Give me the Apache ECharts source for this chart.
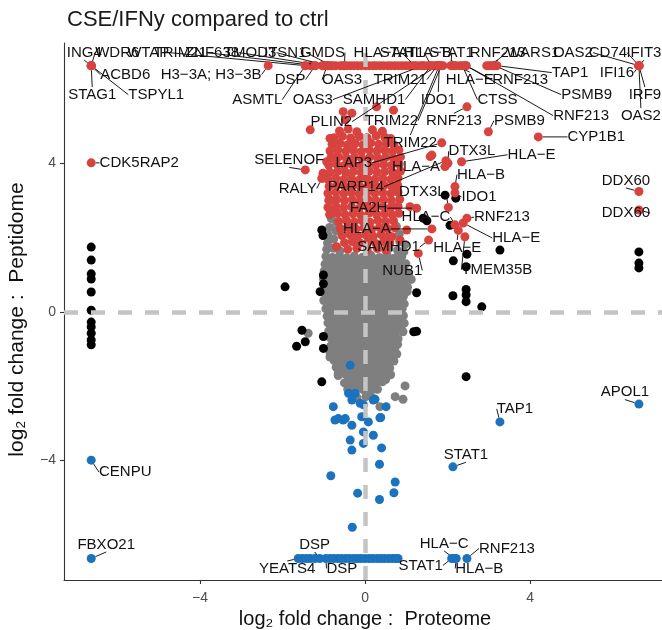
<!DOCTYPE html>
<html>
<head>
<meta charset="utf-8">
<script src="https://cdn.jsdelivr.net/npm/echarts@6/dist/echarts.min.js"></script>
<style>
  html, body { margin: 0; padding: 0; background: #ffffff; }
  #chart { width: 662px; height: 630px; }
</style>
</head>
<body>
<div id="chart"></div>
<script>
// ---- text ----
const chartTitle = 'CSE/IFNy compared to ctrl';
const xAxisTitle = 'log\u2082 fold change :  Proteome';
const yAxisTitle = 'log\u2082 fold change :  Peptidome';
const xTicks = [-4, 0, 4];
const yTicks = [-4, 0, 4];

// ---- not significant (grey) ----
const greyPoints = [
  [-0.82,2.52],[-0.69,2.41],[-0.86,2.28],[-0.71,2.19],[0.76,2.31],[-0.9,2.08],[-0.76,1.97],[0.83,2.1],[-0.91,1.86],[0.84,1.9],[0.97,1.82],
  [-0.93,1.69],[-0.77,1.72],[-0.61,1.65],[0.58,1.71],[0.79,1.66],[0.94,1.62],
  [-0.95,1.5],[-0.79,1.47],[-0.62,1.52],[-0.44,1.46],[-0.26,1.51],[-0.06,1.48],[0.14,1.53],[0.35,1.47],[0.54,1.52],[0.71,1.45],[0.89,1.5],
  [-0.88,1.41],[-0.7,1.38],[-0.53,1.42],[-0.35,1.39],[-0.16,1.41],[0.04,1.38],[0.25,1.42],[0.44,1.39],[0.62,1.4],[0.8,1.37],
  [-0.97,1.29],[-0.81,1.32],[-0.63,1.27],[-0.45,1.31],[-0.28,1.28],[-0.1,1.33],[0.09,1.29],[0.29,1.31],[0.47,1.27],[0.66,1.32],[0.83,1.28],[0.99,1.3],
  [-0.9,1.2],[-0.72,1.18],[-0.54,1.22],[-0.37,1.19],[-0.18,1.21],[0.0,1.18],[0.2,1.22],[0.4,1.2],[0.58,1.17],[0.76,1.21],[0.93,1.19],
  [-0.99,1.11],[-0.83,1.08],[-0.65,1.12],[-0.46,1.09],[-0.27,1.13],[-0.08,1.07],[0.12,1.11],[0.31,1.09],[0.5,1.12],[0.68,1.08],[0.87,1.1],[1.04,1.06],
  [-0.92,1.0],[-0.74,0.98],[-0.56,1.02],[-0.38,0.99],[-0.19,1.01],[-0.01,0.97],[0.18,1.01],[0.37,0.98],[0.55,1.02],[0.74,0.99],[0.92,1.01],[1.06,0.97],
  [-1.01,0.9],[-0.84,0.92],[-0.66,0.88],[-0.48,0.91],[-0.29,0.87],[-0.1,0.92],[0.08,0.89],[0.27,0.91],[0.46,0.88],[0.64,0.92],[0.82,0.89],[0.98,0.93],[1.12,0.88],
  [-0.9,0.8],[-0.71,0.78],[-0.53,0.82],[-0.35,0.79],[-0.16,0.81],[0.03,0.78],[0.21,0.82],[0.4,0.8],[0.59,0.77],[0.77,0.81],[0.94,0.79],
  [-0.98,0.69],[-0.8,0.72],[-0.62,0.68],[-0.44,0.71],[-0.25,0.67],[-0.07,0.72],[0.12,0.7],[0.3,0.68],[0.5,0.73],[0.68,0.69],[0.86,0.71],[1.03,0.67],
  [-0.89,0.6],[-0.71,0.58],[-0.52,0.62],[-0.34,0.59],[-0.15,0.61],[0.04,0.57],[0.22,0.61],[0.41,0.58],[0.6,0.62],[0.79,0.59],[0.96,0.61],
  [-0.97,0.5],[-0.8,0.47],[-0.61,0.52],[-0.43,0.49],[-0.24,0.53],[-0.05,0.48],[0.14,0.51],[0.32,0.47],[0.51,0.52],[0.7,0.49],[0.88,0.53],[1.02,0.55],
  [-0.9,0.4],[-0.72,0.38],[-0.54,0.42],[-0.36,0.39],[-0.17,0.41],[0.02,0.38],[0.2,0.42],[0.4,0.39],[0.58,0.41],[0.77,0.38],[0.93,0.42],
  [-1.0,0.31],[-0.83,0.28],[-0.64,0.32],[-0.45,0.29],[-0.27,0.33],[-0.08,0.28],[0.1,0.31],[0.29,0.27],[0.48,0.32],[0.66,0.29],[0.84,0.31],
  [-0.88,0.2],[-0.7,0.18],[-0.51,0.22],[-0.33,0.19],[-0.14,0.21],[0.05,0.18],[0.24,0.22],[0.43,0.19],[0.62,0.21],[0.8,0.18],[0.95,0.22],
  [-0.95,0.09],[-0.77,0.12],[-0.58,0.08],[-0.4,0.11],[-0.21,0.07],[-0.02,0.12],[0.16,0.09],[0.35,0.11],[0.54,0.07],[0.72,0.12],[0.9,0.09],
  [-0.84,0.0],[-0.65,-0.02],[-0.47,0.02],[-0.28,-0.01],[-0.1,0.01],[0.09,-0.02],[0.28,0.02],[0.47,-0.01],[0.65,0.01],[0.83,-0.02],
  [-0.92,-0.11],[-0.74,-0.08],[-0.55,-0.12],[-0.37,-0.09],[-0.18,-0.13],[0.01,-0.08],[0.19,-0.11],[0.38,-0.09],[0.57,-0.12],[0.76,-0.08],[0.93,-0.1],
  [-0.82,-0.2],[-0.63,-0.22],[-0.45,-0.18],[-0.26,-0.21],[-0.08,-0.19],[0.11,-0.22],[0.3,-0.18],[0.49,-0.21],[0.68,-0.19],[0.86,-0.22],
  [-0.9,-0.29],[-0.72,-0.32],[-0.53,-0.28],[-0.35,-0.31],[-0.16,-0.27],[0.03,-0.32],[0.22,-0.29],[0.4,-0.31],[0.59,-0.28],[0.78,-0.32],[0.95,-0.3],
  [-0.8,-0.4],[-0.61,-0.42],[-0.43,-0.38],[-0.24,-0.41],[-0.05,-0.39],[0.14,-0.42],[0.32,-0.38],[0.5,-0.41],[0.69,-0.39],[0.87,-0.42],
  [-0.88,-0.51],[-0.7,-0.48],[-0.52,-0.52],[-0.33,-0.49],[-0.14,-0.53],[0.05,-0.48],[0.24,-0.51],[0.42,-0.49],[0.6,-0.52],[0.8,-0.47],[0.92,-0.53],
  [-0.77,-0.6],[-0.58,-0.62],[-0.4,-0.58],[-0.2,-0.61],[-0.02,-0.59],[0.17,-0.62],[0.36,-0.58],[0.54,-0.61],[0.72,-0.59],
  [-0.85,-0.69],[-0.67,-0.72],[-0.48,-0.68],[-0.3,-0.71],[-0.11,-0.67],[0.08,-0.72],[0.27,-0.69],[0.45,-0.71],[0.63,-0.68],[0.8,-0.72],
  [-0.75,-0.8],[-0.56,-0.82],[-0.38,-0.78],[-0.19,-0.81],[0.0,-0.79],[0.2,-0.82],[0.39,-0.78],[0.57,-0.81],[0.72,-0.79],
  [-0.83,-0.91],[-0.64,-0.88],[-0.46,-0.92],[-0.27,-0.89],[-0.08,-0.93],[0.11,-0.88],[0.3,-0.91],[0.48,-0.89],[0.66,-0.92],[0.79,-0.87],
  [-0.74,-1.0],[-0.55,-1.02],[-0.36,-0.98],[-0.18,-1.01],[0.01,-0.99],[0.2,-1.02],[0.38,-0.98],[0.56,-1.01],[0.72,-0.99],
  [-0.85,-1.09],[-0.66,-1.12],[-0.47,-1.08],[-0.28,-1.11],[-0.09,-1.07],[0.1,-1.12],[0.29,-1.09],[0.47,-1.11],[0.65,-1.08],[0.77,-1.13],
  [-0.66,-1.2],[-0.47,-1.22],[-0.28,-1.18],[-0.09,-1.21],[0.1,-1.19],[0.29,-1.22],[0.47,-1.18],[0.62,-1.21],
  [-0.75,-1.31],[-0.56,-1.28],[-0.38,-1.32],[-0.19,-1.29],[0.0,-1.33],[0.19,-1.28],[0.38,-1.31],[0.56,-1.29],[0.7,-1.32],
  [-0.6,-1.4],[-0.42,-1.42],[-0.23,-1.38],[-0.04,-1.41],[0.15,-1.39],[0.34,-1.42],[0.52,-1.38],
  [-0.7,-1.49],[-0.52,-1.52],[-0.33,-1.48],[-0.14,-1.51],[0.05,-1.47],[0.24,-1.52],[0.43,-1.49],[0.6,-1.51],
  [-0.56,-1.6],[-0.37,-1.62],[-0.18,-1.58],[0.0,-1.61],[0.2,-1.59],[0.38,-1.62],[0.55,-1.58],
  [-0.65,-1.71],[-0.47,-1.68],[-0.28,-1.72],[-0.09,-1.69],[0.1,-1.73],[0.29,-1.68],[0.47,-1.71],[0.62,-1.69],
  [-0.4,-1.8],[-0.2,-1.82],[-0.01,-1.78],[0.18,-1.81],[0.35,-1.79],[0.5,-1.82],
  [-0.5,-1.91],[-0.32,-1.88],[-0.13,-1.92],[0.06,-1.89],[0.25,-1.93],[0.42,-1.88],[0.97,-1.99],
  [-0.33,-2.0],[-0.14,-2.02],[0.05,-1.98],[0.22,-2.01],
  [-0.42,-2.08],[-0.24,-2.12],[-0.05,-2.09],[0.14,-2.13],[0.3,-2.08],[0.73,-2.28],
  [-0.2,-2.31],[0.02,-2.28],[0.2,-2.33],[0.92,-2.35],[0.36,-2.55],
  [-1.38,-0.57],[-0.85,-1.21],[-0.65,-1.64]
];

// ---- significant in one dataset only (black) ----
const blackPoints = [
  [-6.64,1.75],[-6.64,1.4],[-6.64,1.03],[-6.64,0.89],[-6.64,0.54],[-6.64,0.05],[-6.64,-0.27],[-6.64,-0.4],[-6.64,-0.57],[-6.64,-0.75],[-6.64,-0.88],
  [6.64,1.62],[6.64,1.32],[6.64,1.19],
  [-1.05,2.21],[-1.02,2.06],[-1.94,0.68],[-1.01,1.0],[-1.01,0.76],[-1.09,0.55],[-1.53,-0.49],[-1.45,-0.8],[-1.66,-0.92],[-1.01,-0.66],[-1.01,-0.98],[-1.05,-1.88],
  [1.94,3.15],[2.2,3.07],[1.5,2.46],[1.41,2.53],[2.06,2.34],[3.27,1.67],[2.47,1.56],[2.14,1.38],[2.45,1.22],[1.25,0.52],[2.13,0.44],
  [2.45,0.61],[2.45,0.46],[2.45,0.28],[2.83,0.14],[2.45,-1.74],[1.18,-0.53],[1.25,-0.52]
];

// ---- down in peptidome (blue) ----
const bluePoints = [
  [-1.52,-6.64],[-1.42,-6.64],[-1.33,-6.64],[-1.22,-6.64],[-0.85,-6.64],[-0.76,-6.64],[-0.66,-6.64],[-0.57,-6.64],[-0.47,-6.64],[-0.38,-6.64],
  [-0.28,-6.64],[-0.19,-6.64],[-0.1,-6.64],[0.0,-6.64],[0.1,-6.64],[0.19,-6.64],[0.29,-6.64],[0.38,-6.64],[0.47,-6.64],[0.57,-6.64],[0.66,-6.64],[0.74,-6.64],[0.8,-6.64],
  [-0.36,-1.43],[-0.4,-2.19],[-0.24,-2.19],[-0.32,-2.37],[-0.12,-2.46],[0.24,-2.35],[0.2,-2.37],[0.51,-2.55],[-0.77,-2.55],[-0.08,-2.82],[0.36,-2.85],
  [-0.73,-2.91],[-0.53,-2.91],[-0.65,-2.87],[-0.48,-2.87],[-0.32,-3.05],[0.08,-2.96],[-0.04,-3.23],[0.2,-3.32],[-0.36,-3.45],[-0.04,-3.54],[0.4,-3.66],
  [-0.32,-3.72],[0.35,-4.1],[-0.83,-4.41],[0.73,-4.58],[0.7,-4.87],[-0.18,-4.88],[0.35,-5.05],[-0.31,-5.8],[0.38,-2.84],[-0.04,-2.5]
];
const blueLabeled = [
  [-6.64,-3.99,'CENPU'],[-6.64,-6.64,'FBXO21'],[-1.1,-6.64,'DSP'],[-1.62,-6.64,'YEATS4'],[-0.95,-6.64,'DSP'],
  [2.1,-6.64,'STAT1'],[2.16,-6.64,'HLA\u2212C'],[2.21,-6.64,'HLA\u2212B'],[2.47,-6.64,'RNF213'],
  [6.64,-2.48,'APOL1'],[3.27,-2.96,'TAP1'],[2.13,-4.17,'STAT1']
];

// ---- up in peptidome (red) ----
const redPoints = [
  [-1.04,6.64],[-0.97,6.64],[-0.88,6.64],[-0.79,6.64],[-0.71,6.64],[-0.6,6.64],[-0.53,6.64],[-0.44,6.64],[-0.35,6.64],[-0.27,6.64],
  [-0.18,6.64],[-0.09,6.64],[0.01,6.64],[0.1,6.64],[0.19,6.64],[0.27,6.64],[0.36,6.64],[0.45,6.64],[0.55,6.64],[0.63,6.64],
  [0.72,6.64],[0.81,6.64],[0.9,6.64],[0.99,6.64],[1.08,6.64],[1.17,6.64],[1.27,6.64],[1.35,6.64],[1.44,6.64],[1.53,6.64],
  [1.66,6.64],[1.71,6.64],[1.83,6.64],[1.89,6.64],[2.12,6.64],[2.29,6.64],[2.4,6.64],[3.0,6.64],[3.1,6.64],[-1.33,6.64],
  [-0.53,5.4],[-0.32,5.36],[0.28,5.53],[0.69,5.44],[-0.48,5.18],[-1.33,4.91],[-0.85,4.68],[1.58,4.19],[1.62,4.23],[-0.69,4.19],
  [-0.93,4.05],[-1.02,3.74],[-0.85,3.02],[-0.81,2.7],[-0.69,1.76],[0.77,3.38],[1.09,2.84],[1.01,2.21],[0.65,2.03],[0.85,1.94],
  [-0.62,4.88],[-0.41,4.93],[-0.2,4.86],[0.18,4.91],[0.42,4.87],
  [-0.75,4.7],[-0.55,4.74],[-0.35,4.69],[-0.14,4.73],[0.05,4.7],[0.27,4.75],[0.48,4.71],[0.62,4.68],
  [-0.8,4.52],[-0.61,4.55],[-0.43,4.5],[-0.24,4.54],[-0.05,4.51],[0.14,4.56],[0.33,4.52],[0.52,4.55],[0.7,4.5],
  [-0.85,4.34],[-0.66,4.37],[-0.47,4.33],[-0.28,4.36],[-0.09,4.32],[0.1,4.37],[0.29,4.34],[0.48,4.36],[0.66,4.33],[0.82,4.37],
  [-0.83,4.15],[-0.64,4.18],[-0.45,4.14],[-0.26,4.17],[-0.07,4.13],[0.12,4.18],[0.31,4.15],[0.5,4.17],[0.69,4.14],[0.86,4.18],
  [-0.88,3.96],[-0.69,3.99],[-0.5,3.95],[-0.31,3.98],[-0.12,3.94],[0.07,3.99],[0.26,3.96],[0.45,3.98],[0.64,3.95],[0.83,3.99],
  [-0.85,3.77],[-0.66,3.8],[-0.47,3.76],[-0.28,3.79],[-0.09,3.75],[0.1,3.8],[0.29,3.77],[0.48,3.79],[0.67,3.76],[0.86,3.8],
  [-0.9,3.58],[-0.71,3.61],[-0.52,3.57],[-0.33,3.6],[-0.14,3.56],[0.05,3.61],[0.24,3.58],[0.43,3.6],[0.62,3.57],[0.8,3.61],
  [-0.87,3.39],[-0.68,3.42],[-0.49,3.38],[-0.3,3.41],[-0.11,3.37],[0.08,3.42],[0.27,3.39],[0.46,3.41],[0.65,3.38],[0.79,3.42],
  [-0.9,3.2],[-0.71,3.23],[-0.52,3.19],[-0.33,3.22],[-0.14,3.18],[0.05,3.23],[0.24,3.2],[0.43,3.22],[0.62,3.19],[0.8,3.23],
  [-0.88,3.01],[-0.69,3.04],[-0.5,3.0],[-0.31,3.03],[-0.12,2.99],[0.07,3.04],[0.26,3.01],[0.45,3.03],[0.64,3.0],[0.84,3.04],
  [-0.9,2.82],[-0.71,2.85],[-0.52,2.81],[-0.33,2.84],[-0.14,2.8],[0.05,2.85],[0.24,2.82],[0.43,2.84],[0.62,2.81],[0.8,2.85],
  [-0.86,2.63],[-0.67,2.66],[-0.48,2.62],[-0.29,2.65],[-0.1,2.61],[0.09,2.66],[0.28,2.63],[0.47,2.65],[0.66,2.62],[0.82,2.66],
  [-0.64,2.44],[-0.45,2.47],[-0.26,2.43],[-0.07,2.46],[0.12,2.42],[0.31,2.47],[0.5,2.44],[0.69,2.46],
  [-0.6,2.25],[-0.41,2.28],[-0.22,2.24],[-0.03,2.27],[0.16,2.23],[0.35,2.28],[0.54,2.25],[0.72,2.27],
  [-0.56,2.06],[-0.37,2.09],[-0.18,2.05],[0.01,2.08],[0.2,2.04],[0.39,2.09],[0.58,2.06],
  [-0.5,1.87],[-0.31,1.9],[-0.12,1.86],[0.07,1.89],[0.26,1.85],[0.45,1.9],[0.6,1.87],
  [-0.42,1.69],[-0.2,1.72],[0.05,1.68],[0.3,1.71],[0.5,1.67]
];
const redLabeled = [
  [-6.64,6.64,'ING4'],[-6.64,6.64,'WDR6'],[-6.64,6.64,'ACBD6'],[-6.64,6.64,'STAG1'],[-6.64,6.64,'TSPYL1'],
  [-2.35,6.64,'H3\u22123A; H3\u22123B'],
  [-1.45,6.64,'WTAP'],[-1.21,6.64,'TRIM21'],[-1.02,6.64,'ZNF638'],[-0.92,6.64,'TMOD3'],[-0.82,6.64,'ITSN1'],[-0.5,6.64,'GMDS'],
  [1.2,6.64,'HLA\u2212A'],[1.6,6.64,'STAT1'],[2.08,6.64,'HLA\u2212B'],[2.17,6.64,'STAT1'],[2.95,6.64,'RNF213'],[3.05,6.64,'WARS1'],
  [6.64,6.64,'OAS2'],[6.64,6.64,'CD74'],[6.64,6.64,'IFIT3'],
  [-1.21,6.64,'DSP'],[-0.92,6.64,'OAS3'],[1.75,6.64,'TRIM21'],[2.2,6.64,'HLA\u2212E'],[2.45,6.64,'RNF213'],[3.2,6.64,'TAP1'],[6.64,6.64,'IFI16'],
  [-1.45,6.64,'ASMTL'],[1.4,6.64,'OAS3'],[1.6,6.64,'SAMHD1'],[1.8,6.64,'IDO1'],[2.36,6.64,'CTSS'],[3.14,6.64,'PSMB9'],[6.64,6.64,'IRF9'],
  [1.75,6.64,'PLIN2'],[1.85,6.64,'TRIM22'],[2.45,6.64,'RNF213'],[6.64,6.64,'OAS2'],[1.8,6.64,'TRIM22'],
  [2.47,5.53,'RNF213'],[2.99,4.86,'PSMB9'],[4.2,4.72,'CYP1B1'],[1.86,4.56,'LAP3'],[2.01,4.01,'DTX3L'],[2.34,4.05,'HLA\u2212E'],
  [1.94,3.92,'HLA\u2212A'],[1.96,4.08,'PARP14'],[2.18,3.38,'HLA\u2212B'],[2.18,3.21,'IDO1'],[2.02,2.82,'DTX3L'],[1.25,2.8,'FA2H'],
  [2.18,2.35,'HLA\u2212C'],[2.47,2.53,'RNF213'],[1.62,2.24,'HLA\u2212A'],[2.38,2.4,'HLA\u2212E'],[1.54,1.94,'SAMHD1'],[2.26,2.2,'HLA\u2212E'],
  [1.29,1.58,'NUB1'],[2.42,2.03,'TMEM35B'],[-1.45,3.83,'SELENOF'],[-1.05,3.6,'RALY'],[-6.64,4.02,'CDK5RAP2'],
  [6.64,3.25,'DDX60'],[6.64,2.75,'DDX60']
];

// label nudges (px from the point), same order as the labelled lists
const redNudge = [
  [-7,-13],[26,-13],[34,9],[1,29],[65,29],
  [-57,9],
  [-157,-13],[-135,-13],[-111,-13],[-77,-13],[-46,-13],[-22,-13],
  [-37,-13],[-29,-13],[-23,-13],[-3,-13],[11,-13],[42,-13],
  [-66,-13],[-31,-13],[5,-13],
  [-25,14],[15,14],[-37,14],[14,14],[54,14],[73,7],[-22,7],
  [-48,34],[-110,34],[-57,34],[-1,34],[35,34],[92,29],[6,29],
  [-106,56],[-50,55],[115,50],[2,50],[-29,77],
  [-13,14],[31,-11],[58,0],[-88,20],[24,-12],[70,-7],
  [-29,0],[-90,26],[26,-12],[24,4],[-26,-16],[-48,0],
  [-29,-8],[35,-1],[-65,0],[53,15],[-40,7],[-1,17],
  [-16,17],[32,33],[-16,-10],[-24,10],[48,0],
  [-13,-11],[-13,3]
];
const blueNudge = [
  [34,12],[15,-14],[-5,-14],[-11,10],[16,10],
  [-31,7],[-10,-15],[23,10],[40,-10],
  [-14,-12],[15,-13],[13,-12]
];

// ---- drawing ----
const FONT = '"Liberation Sans", Arial, Helvetica, sans-serif';
const RED = '#D8433F', BLUE = '#1B73BF', GREY = '#7F7F7F', BLACK = '#000000';
const DOT = 9;
const minus = v => (v < 0 ? '\u2212' + Math.abs(v) : String(v));

function dots(points, color, z) {
  return {
    type: 'scatter', z: z, symbolSize: DOT, silent: true,
    itemStyle: { color: color, opacity: 1 },
    emphasis: { disabled: true },
    data: points
  };
}
function labelledDots(rows, nudges, color) {
  return {
    type: 'scatter', z: 6, symbolSize: DOT, silent: true,
    itemStyle: { color: color, opacity: 1 },
    emphasis: { disabled: true },
    data: rows.map(r => ({ value: [r[0], r[1]], name: r[2] })),
    label: {
      show: true, position: 'inside', formatter: p => p.name,
      fontFamily: FONT, fontSize: 15, color: '#111111'
    },
    labelLine: { show: true, lineStyle: { color: '#000000', width: 0.9 } },
    labelLayout: p => ({ dx: nudges[p.dataIndex][0], dy: nudges[p.dataIndex][1] })
  };
}

const chart = echarts.init(document.getElementById('chart'), null, { renderer: 'canvas' });
chart.setOption({
  animation: false,
  backgroundColor: '#ffffff',
  title: {
    text: chartTitle, left: 62, top: 4,
    textStyle: { fontFamily: FONT, fontSize: 22, fontWeight: 'normal', color: '#1a1a1a' }
  },
  grid: { left: 64, top: 43, width: 598, height: 537, outerBoundsMode: 'none', containLabel: false },
  xAxis: {
    type: 'value', min: -7.3, max: 7.2,
    axisLine: { show: true, onZero: false, lineStyle: { color: '#333333', width: 1.1 } },
    axisTick: { show: true, length: 4, customValues: xTicks, lineStyle: { color: '#333333', width: 1.1 } },
    axisLabel: { customValues: xTicks, formatter: minus, fontFamily: FONT, fontSize: 14, color: '#4d4d4d', margin: 11 },
    splitLine: { show: false },
    name: xAxisTitle, nameLocation: 'middle', nameGap: 23,
    nameTextStyle: { fontFamily: FONT, fontSize: 20, color: '#111111', padding: [0, 0, 0, 4] }
  },
  yAxis: {
    type: 'value', min: -7.22, max: 7.25,
    axisLine: { show: true, onZero: false, lineStyle: { color: '#333333', width: 1.1 } },
    axisTick: { show: true, length: 4, customValues: yTicks, lineStyle: { color: '#333333', width: 1.1 } },
    axisLabel: { customValues: yTicks, formatter: minus, fontFamily: FONT, fontSize: 14, color: '#4d4d4d', margin: 8 },
    splitLine: { show: false },
    name: yAxisTitle, nameLocation: 'middle', nameGap: 36, nameRotate: 90,
    nameTextStyle: { fontFamily: FONT, fontSize: 21, color: '#111111', padding: [0, 16, 0, 0] }
  },
  series: [
    dots(greyPoints, GREY, 2),
    dots(blackPoints, BLACK, 2),
    dots(bluePoints, BLUE, 2),
    dots(redPoints, RED, 2),
    {
      type: 'scatter', z: 4, silent: true, data: [],
      markLine: {
        silent: true, symbol: 'none', animation: false,
        label: { show: false },
        lineStyle: { color: '#c4c4c4', width: 4.5, type: [14, 13], opacity: 1 },
        emphasis: { disabled: true },
        data: [{ xAxis: 0 }, { yAxis: 0 }]
      }
    },
    labelledDots(blueLabeled, blueNudge, BLUE),
    labelledDots(redLabeled, redNudge, RED)
  ]
});
</script>
</body>
</html>
